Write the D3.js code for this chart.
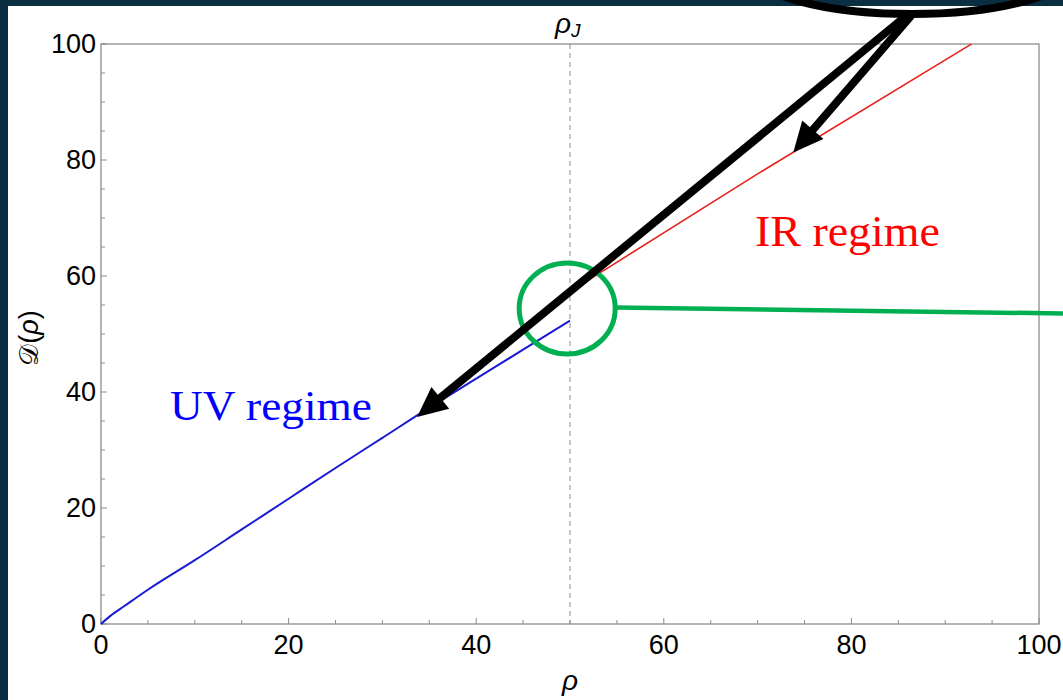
<!DOCTYPE html>
<html>
<head>
<meta charset="utf-8">
<script src="https://cdn.jsdelivr.net/npm/d3@7"></script>
<style>
  body { margin: 0; background: #fff; }
  svg { display: block; }
</style>
</head>
<body>
<script>
// UV branch (rho < rho_J) and IR branch (rho > rho_J)
const uvRho = [0, 1, 2.5, 5, 10, 15, 20, 25, 30, 35, 40, 45, 50];
const uvD   = [0, 1.4, 3.1, 5.9, 11.0, 16.3, 21.6, 26.9, 32.1, 37.3, 42.3, 47.3, 52.3];
const irRho = [50, 70, 92.8];
const irD   = [57.3, 77.6, 100];
const rhoJ = 50;
const xTicks = [0, 20, 40, 60, 80, 100];
const yTicks = [0, 20, 40, 60, 80, 100];

function draw() {
  const width = 1063, height = 700;
  const svg = d3.select("body").append("svg")
    .attr("width", width).attr("height", height);

  const x = d3.scaleLinear().domain([0, 100]).range([101, 1039]);
  const y = d3.scaleLinear().domain([0, 100]).range([624, 44]);

  // frame
  svg.append("rect")
    .attr("x", x(0)).attr("y", y(100))
    .attr("width", x(100) - x(0)).attr("height", y(0) - y(100))
    .attr("fill", "none").attr("stroke", "#8c8c8c").attr("stroke-width", 1.3);

  // ticks (inside, bottom and left)
  const minor = d3.range(0, 101, 5);
  svg.append("g").selectAll("line").data(minor).join("line")
    .attr("x1", d => x(d)).attr("x2", d => x(d))
    .attr("y1", y(0)).attr("y2", d => y(0) - (d % 20 === 0 ? 6 : 4))
    .attr("stroke", "#8c8c8c").attr("stroke-width", 1);
  svg.append("g").selectAll("line").data(minor).join("line")
    .attr("y1", d => y(d)).attr("y2", d => y(d))
    .attr("x1", x(0)).attr("x2", d => x(0) + (d % 20 === 0 ? 6 : 4))
    .attr("stroke", "#8c8c8c").attr("stroke-width", 1);

  const tickFont = "'Liberation Sans', Arial, sans-serif";
  svg.append("g").selectAll("text").data(xTicks).join("text")
    .attr("x", d => x(d)).attr("y", y(0) + 30)
    .attr("text-anchor", "middle")
    .attr("font-family", tickFont).attr("font-size", 27)
    .text(d => d);
  svg.append("g").selectAll("text").data(yTicks).join("text")
    .attr("x", x(0) - 5).attr("y", d => y(d) + 9)
    .attr("text-anchor", "end")
    .attr("font-family", tickFont).attr("font-size", 27)
    .text(d => d);

  // rho_J dashed line
  svg.append("line")
    .attr("x1", x(rhoJ)).attr("x2", x(rhoJ))
    .attr("y1", y(100)).attr("y2", y(0))
    .attr("stroke", "#8c8c8c").attr("stroke-width", 1)
    .attr("stroke-dasharray", "5,4");
  const rj = svg.append("text")
    .attr("x", x(rhoJ) - 15).attr("y", 33)
    .attr("font-family", tickFont).attr("font-size", 28).attr("font-style", "italic");
  rj.append("tspan").text("ρ");
  rj.append("tspan").attr("font-size", 19).attr("dy", 4).text("J");

  // axis labels
  svg.append("text")
    .attr("x", x(50)).attr("y", 690)
    .attr("text-anchor", "middle")
    .attr("font-family", tickFont).attr("font-size", 28).attr("font-style", "italic")
    .text("ρ");
  const yl = svg.append("text")
    .attr("transform", `translate(38,${y(50) + 4}) rotate(-90)`)
    .attr("text-anchor", "middle")
    .attr("font-family", tickFont).attr("font-size", 27);
  yl.append("tspan").text("𝒟(");
  yl.append("tspan").attr("font-style", "italic").text("ρ");
  yl.append("tspan").text(")");

  // curves
  const line = d3.line().x(d => x(d[0])).y(d => y(d[1])).curve(d3.curveMonotoneX);
  svg.append("path")
    .datum(uvRho.map((r, i) => [r, uvD[i]]))
    .attr("d", line).attr("fill", "none")
    .attr("stroke", "#1a1ad6").attr("stroke-width", 2);
  svg.append("path")
    .datum(irRho.map((r, i) => [r, irD[i]]))
    .attr("d", line).attr("fill", "none")
    .attr("stroke", "#e8211c").attr("stroke-width", 1.6);

  // regime labels
  const serif = "'Liberation Serif', 'Times New Roman', serif";
  svg.append("text")
    .attr("x", 755).attr("y", 246)
    .attr("font-family", serif).attr("font-size", 44)
    .attr("textLength", 185).attr("lengthAdjust", "spacingAndGlyphs")
    .attr("fill", "#ff0000")
    .text("IR regime");
  svg.append("text")
    .attr("x", 170).attr("y", 420)
    .attr("font-family", serif).attr("font-size", 43)
    .attr("textLength", 202).attr("lengthAdjust", "spacingAndGlyphs")
    .attr("fill", "#0000ff")
    .text("UV regime");

  // navy border strips (ellipse drawn over them)
  svg.append("rect").attr("x", 0).attr("y", 0).attr("width", width).attr("height", 6)
    .attr("fill", "#0b2e43");
  svg.append("rect").attr("x", 0).attr("y", 0).attr("width", 8).attr("height", height)
    .attr("fill", "#0b2e43");

  // green highlight
  const gc = [x(49.7), y(54.4)];
  svg.append("ellipse")
    .attr("cx", gc[0]).attr("cy", gc[1]).attr("rx", 48).attr("ry", 45.5)
    .attr("fill", "none").attr("stroke", "#00b050").attr("stroke-width", 5);
  svg.append("line")
    .attr("x1", gc[0] + 48).attr("y1", gc[1] - 1)
    .attr("x2", width).attr("y2", gc[1] + 5)
    .attr("stroke", "#00b050").attr("stroke-width", 4.5);

  // black ellipse and arrows
  svg.append("ellipse")
    .attr("cx", 912).attr("cy", -30).attr("rx", 160).attr("ry", 44)
    .attr("fill", "none").attr("stroke", "#000").attr("stroke-width", 8);

  function arrow(x0, y0, x1, y1) {
    const ang = Math.atan2(y1 - y0, x1 - x0);
    const len = 30, half = 14;
    const bx = x1 - len * Math.cos(ang), by = y1 - len * Math.sin(ang);
    svg.append("line")
      .attr("x1", x0).attr("y1", y0).attr("x2", bx + 4 * Math.cos(ang)).attr("y2", by + 4 * Math.sin(ang))
      .attr("stroke", "#000").attr("stroke-width", 8);
    const px = -Math.sin(ang), py = Math.cos(ang);
    svg.append("path")
      .attr("d", `M${x1},${y1}L${bx + half * px},${by + half * py}L${bx - half * px},${by - half * py}Z`)
      .attr("fill", "#000");
  }
  arrow(906, 16, x(33.7), y(35.7));
  arrow(911, 16, x(73.8), y(81.3));
}
window.onload = draw;
</script>
</body>
</html>
